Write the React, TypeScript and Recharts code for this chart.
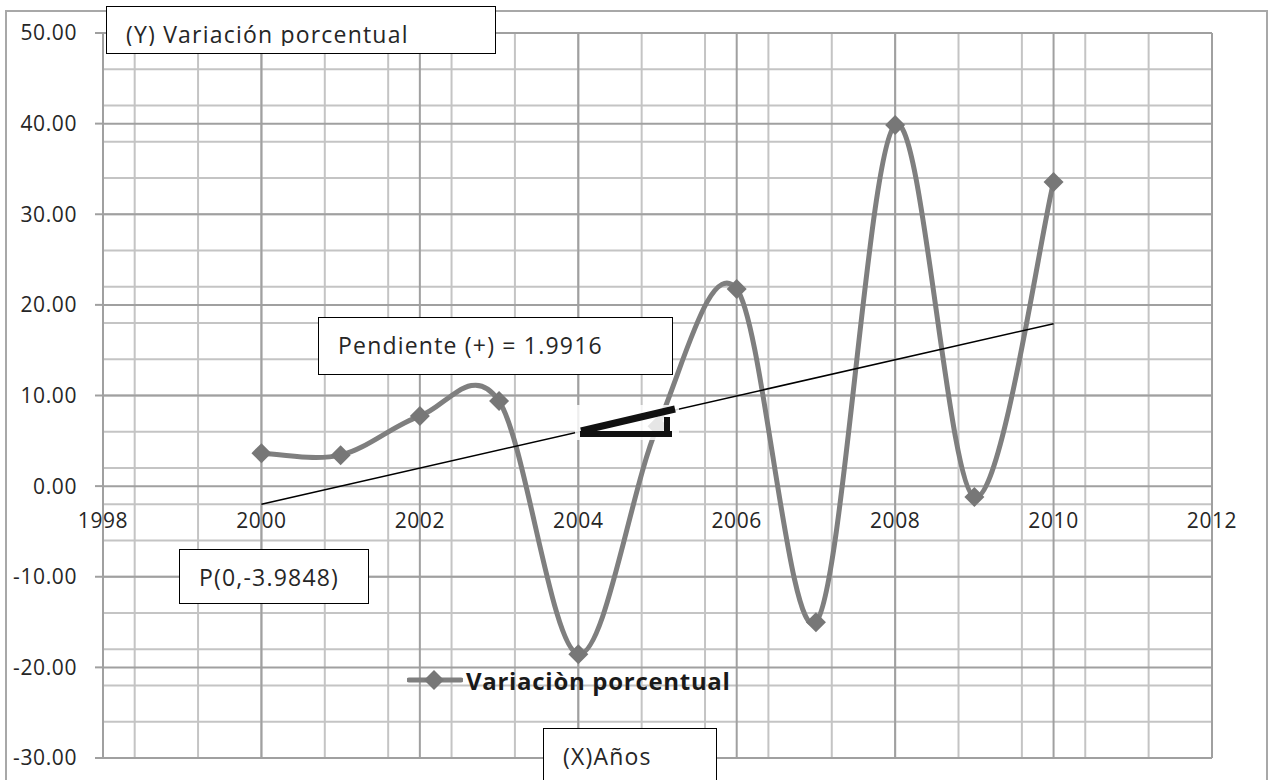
import React from 'react';
import { LineChart, Line, XAxis, YAxis, CartesianGrid, ReferenceLine, ReferenceDot, Legend } from 'recharts';

// values
const years = [2000, 2001, 2002, 2003, 2004, 2005, 2006, 2007, 2008, 2009, 2010];
const variacion = [3.64, 3.42, 7.73, 9.38, -18.54, 6.6, 21.74, -15.01, 39.85, -1.21, 33.55];

const xTicks = [1998, 2000, 2002, 2004, 2006, 2008, 2010, 2012];
const yTicks = [-30, -20, -10, 0, 10, 20, 30, 40, 50];

// linear trend drawn on the chart (pendiente 1.9916, P(0,-3.9848))
const trendYears = [2000, 2010];
const trendValues = [-1.99, 17.92];

const range = (from: number, to: number, step: number) => {
  const out: number[] = [];
  for (let v = from; v <= to + 1e-9; v += step) out.push(Math.round(v * 100) / 100);
  return out;
};
const minorX = range(1998, 2012, 0.4);
const minorY = range(-30, 50, 2);

const chartData = years.map((year, i) => ({ year, variacion: variacion[i] }));

const FONT = '"Open Sans", sans-serif';
const TEXT = '#262626';
const SERIES = '#7f7f7f';

// Excel-like smoothed line (bezier through points)
function excelSmooth(context: any) {
  let pts: number[][] = [];
  return {
    areaStart() {},
    areaEnd() {},
    lineStart() {
      pts = [];
    },
    point(x: number, y: number) {
      pts.push([+x, +y]);
    },
    lineEnd() {
      if (!pts.length) return;
      context.moveTo(pts[0][0], pts[0][1]);
      for (let i = 0; i < pts.length - 1; i++) {
        const p0 = pts[Math.max(0, i - 1)];
        const p1 = pts[i];
        const p2 = pts[i + 1];
        const p3 = pts[Math.min(pts.length - 1, i + 2)];
        context.bezierCurveTo(
          p1[0] + (p2[0] - p0[0]) / 6,
          p1[1] + (p2[1] - p0[1]) / 6,
          p2[0] - (p3[0] - p1[0]) / 6,
          p2[1] - (p3[1] - p1[1]) / 6,
          p2[0],
          p2[1]
        );
      }
    },
  };
}

const Diamond = (props: any) => {
  const { cx, cy } = props;
  if (cx == null || cy == null) return null;
  return <polygon points={`${cx},${cy - 10} ${cx + 10},${cy} ${cx},${cy + 10} ${cx - 10},${cy}`} fill='#777' />;
};

const LegendContent = () => (
  <div style={{ display: 'flex', alignItems: 'center', height: 30, fontFamily: FONT }}>
    <svg width={56} height={22}>
      <line x1={2} y1={11} x2={54} y2={11} stroke={SERIES} strokeWidth={5} strokeLinecap='round' />
      <polygon points='27,1 37,11 27,21 17,11' fill='#777' />
    </svg>
    <span style={{ fontWeight: 700, fontSize: 24, color: '#1a1a1a', marginLeft: 3, letterSpacing: 0.7 }}>
      Variaciòn porcentual
    </span>
  </div>
);

function TextBox({ left, top, width, height, clip, children }: any) {
  return (
    <div
      style={{
        position: 'absolute',
        left,
        top,
        width,
        height,
        border: '1.5px solid #000',
        background: '#fff',
        boxSizing: 'border-box',
        overflow: 'hidden',
      }}
    >
      <div style={{ position: 'absolute', left: 19, top: 0, right: 0, height: clip ?? height, overflow: 'hidden' }}>
        <div
          style={{
            position: 'absolute',
            top: 12,
            left: 0,
            whiteSpace: 'nowrap',
            fontFamily: FONT,
            fontSize: 23,
            lineHeight: '30px',
            letterSpacing: 1.2,
            color: TEXT,
          }}
        >
          {children}
        </div>
      </div>
    </div>
  );
}

export default function App() {
  return (
    <div style={{ position: 'absolute', left: 0, top: 0, width: 1272, height: 780, overflow: 'hidden', background: '#fff' }}>
      <div
        style={{
          position: 'absolute',
          left: 5,
          top: 10,
          width: 1263,
          height: 820,
          border: '2px solid #a8a8a8',
          boxSizing: 'border-box',
        }}
      />
      <div style={{ position: 'absolute', left: 0, top: 0 }}>
        <LineChart width={1272} height={780} data={chartData} margin={{ top: 33, right: 60, bottom: 22, left: 0 }}>
          <CartesianGrid verticalValues={minorX} horizontalValues={minorY} stroke='#c4c4c4' strokeWidth={2} />
          <CartesianGrid verticalValues={xTicks} horizontalValues={yTicks} stroke='#a0a0a0' strokeWidth={2} />
          <XAxis type='number' dataKey='year' domain={[1998, 2012]} ticks={xTicks} hide />
          <YAxis
            type='number'
            domain={[-30, 50]}
            ticks={yTicks}
            width={103}
            tickFormatter={(v: number) => v.toFixed(2)}
            tick={{ fill: TEXT, fontSize: 21, fontFamily: FONT, letterSpacing: 0.6 }}
            axisLine={{ stroke: '#a0a0a0', strokeWidth: 2 }}
            tickLine={{ stroke: '#a0a0a0', strokeWidth: 2 }}
            tickSize={8}
            tickMargin={18}
          />
          {xTicks.map((t) => (
            <ReferenceDot
              key={t}
              x={t}
              y={0}
              r={0}
              fill='none'
              stroke='none'
              ifOverflow='visible'
              label={{ value: String(t), position: 'bottom', offset: 27, fill: TEXT, fontSize: 21, fontFamily: FONT, letterSpacing: 0.6 }}
            />
          ))}
          <Line
            type={excelSmooth as any}
            dataKey='variacion'
            name='Variaciòn porcentual'
            stroke={SERIES}
            strokeWidth={5}
            dot={<Diamond />}
            activeDot={false}
            isAnimationActive={false}
          />
          <ReferenceLine
            segment={[
              { x: trendYears[0], y: trendValues[0] },
              { x: trendYears[1], y: trendValues[1] },
            ]}
            stroke='#000'
            strokeWidth={1.5}
            ifOverflow='visible'
          />
          <Legend
            layout='horizontal'
            verticalAlign='middle'
            align='center'
            content={<LegendContent />}
            wrapperStyle={{ position: 'absolute', left: 407, top: 665, width: 'auto' }}
          />
        </LineChart>
      </div>

      {/* slope triangle picture */}
      <svg style={{ position: 'absolute', left: 575, top: 405 }} width={104} height={35}>
        <rect x={0} y={0} width={104} height={35} fill='rgba(255,255,255,0.82)' />
        <line x1={6} y1={26} x2={100} y2={4} stroke='#111' strokeWidth={7} />
        <line x1={5} y1={29} x2={97} y2={29} stroke='#111' strokeWidth={6} />
        <line x1={92} y1={12} x2={92} y2={32} stroke='#111' strokeWidth={6} />
      </svg>

      <TextBox left={106} top={6} width={390} height={48} clip={39}>
        (Y) Variación porcentual
      </TextBox>
      <TextBox left={318} top={317} width={355} height={58}>
        Pendiente (+) = 1.9916
      </TextBox>
      <TextBox left={179} top={549} width={190} height={55}>
        P(0,-3.9848)
      </TextBox>
      <TextBox left={543} top={728} width={174} height={80}>
        (X)Años
      </TextBox>
    </div>
  );
}
